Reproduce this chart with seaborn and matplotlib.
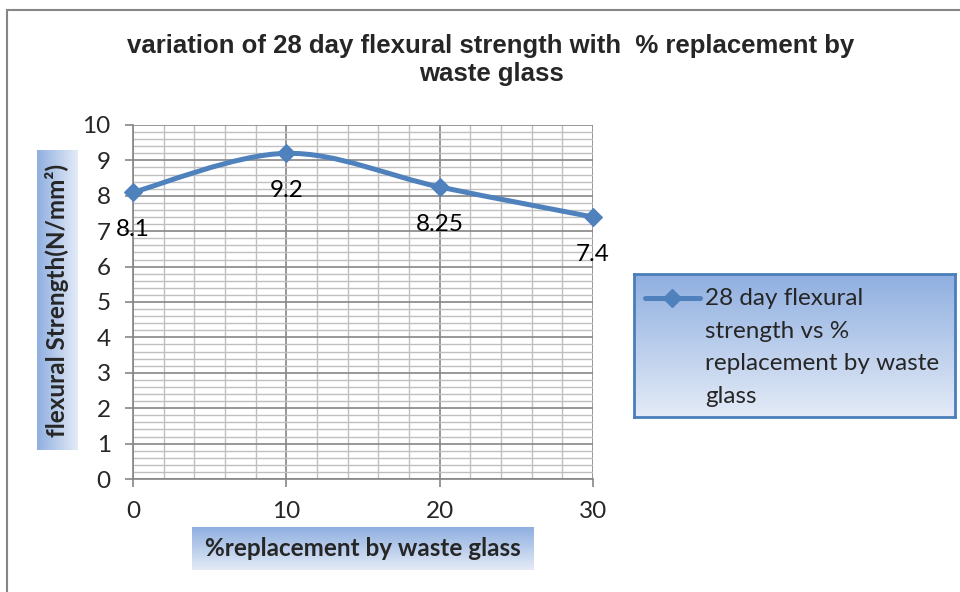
import numpy as np
import pandas as pd
import seaborn as sns
import matplotlib.pyplot as plt
from matplotlib.path import Path
from matplotlib.patches import PathPatch, Rectangle
from matplotlib.lines import Line2D
from matplotlib.colors import LinearSegmentedColormap
from matplotlib.ticker import MultipleLocator

# data
replacement = [0, 10, 20, 30]
strength = [8.1, 9.2, 8.25, 7.4]
point_labels = ['8.1', '9.2', '8.25', '7.4']
series_name = '28 day flexural\nstrength vs %\nreplacement by waste\nglass'
title = 'variation of 28 day flexural strength with  % replacement by\nwaste glass'
x_label = '%replacement by waste glass'
y_label = 'flexural Strength(N/mm²)'

df = pd.DataFrame({'replacement': replacement, 'strength': strength})

sns.set_style('white')
plt.rcParams['font.family'] = ['Lato', 'DejaVu Sans']

blue = '#4f81bd'
grid_major = '#868686'
grid_minor = '#bfbfbf'
box_cmap = LinearSegmentedColormap.from_list('box', ['#8fafe0', '#e4ebf7'])
fs = 17.5

W, H = 960, 592
fig = plt.figure(figsize=(W / 100, H / 100), dpi=100)

def fig_box(x0, y0, x1, y1):
    # pixel box (top-left origin) -> figure fraction rect
    return [x0 / W, 1 - y1 / H, (x1 - x0) / W, (y1 - y0) / H]

# outer chart border (only left/top visible in the crop)
fig.patches.append(Rectangle((7 / W, -0.1), 1.2, (H - 10) / H + 0.1, transform=fig.transFigure,
                             fill=False, edgecolor='#868686', linewidth=1.5))

ax = fig.add_axes(fig_box(133, 125, 593, 479))

# smooth line the way the spreadsheet draws it (bezier through the points)
pts = df[['replacement', 'strength']].to_numpy(float)
ext = np.vstack([pts[0], pts, pts[-1]])
verts = [pts[0]]
codes = [Path.MOVETO]
for i in range(len(pts) - 1):
    p0, p1, p2, p3 = ext[i], ext[i + 1], ext[i + 2], ext[i + 3]
    verts += [p1 + (p2 - p0) / 6, p2 - (p3 - p1) / 6, p2]
    codes += [Path.CURVE4] * 3
ax.add_patch(PathPatch(Path(verts, codes), facecolor='none', edgecolor=blue, linewidth=3.6,
                       zorder=3, capstyle='round', joinstyle='round'))

sns.scatterplot(data=df, x='replacement', y='strength', marker='D', s=80, color=blue,
                edgecolor=blue, linewidth=1, zorder=4, ax=ax, legend=False, clip_on=False)

for xv, yv, lab in zip(replacement, strength, point_labels):
    ax.annotate(lab, (xv, yv), xytext=(0, -27), textcoords='offset points',
                ha='center', va='center', fontsize=fs, color='black')

ax.set_xlim(0, 30)
ax.set_ylim(0, 10)
ax.xaxis.set_major_locator(MultipleLocator(10))
ax.xaxis.set_minor_locator(MultipleLocator(2))
ax.yaxis.set_major_locator(MultipleLocator(1))
ax.yaxis.set_minor_locator(MultipleLocator(0.2))
ax.grid(which='major', color=grid_major, linewidth=1.2)
ax.grid(which='minor', color=grid_minor, linewidth=1.0)
ax.set_axisbelow(True)
ax.tick_params(which='major', direction='out', length=6, width=1.2, color=grid_major,
               labelsize=fs, pad=10, bottom=True, left=True)
ax.tick_params(which='minor', length=0)
for s in ['top', 'right']:
    ax.spines[s].set_visible(False)
for s in ['left', 'bottom']:
    ax.spines[s].set_color(grid_major)
    ax.spines[s].set_linewidth(1.2)
ax.set_xlabel('')
ax.set_ylabel('')

fig.text(491 / W, 1 - 60 / H, title, ha='center', va='center', fontsize=18.5, fontweight='bold',
         family='Liberation Sans', linespacing=1.2)

# axis titles on gradient boxes
grad = np.linspace(0, 1, 256)
yl = fig.add_axes(fig_box(37, 150, 78, 450))
yl.imshow(grad[np.newaxis, :], cmap=box_cmap, aspect='auto', extent=(0, 1, 0, 1))
yl.set_axis_off()
yl.text(0.5, 0.5, y_label, rotation=90, ha='center', va='center', fontsize=fs,
        fontweight='bold', transform=yl.transAxes)

xl = fig.add_axes(fig_box(192, 527, 534, 570))
xl.imshow(grad[:, np.newaxis], cmap=box_cmap, aspect='auto', extent=(0, 1, 0, 1), origin='upper')
xl.set_axis_off()
xl.text(0.5, 0.5, x_label, ha='center', va='center', fontsize=fs,
        fontweight='bold', transform=xl.transAxes)

# legend box with gradient fill
lx0, ly0, lx1, ly1 = 634, 274, 955, 417
lg = fig.add_axes(fig_box(lx0, ly0, lx1, ly1))
lg.imshow(grad[:, np.newaxis], cmap=box_cmap, aspect='auto', extent=(0, 1, 0, 1), origin='upper')
lg.set_xlim(0, 1)
lg.set_ylim(0, 1)
lg.set_xticks([])
lg.set_yticks([])
for s in lg.spines.values():
    s.set_color('#4a7ebb')
    s.set_linewidth(2)
lw_, lh_ = lx1 - lx0, ly1 - ly0
hx = [(645 - lx0) / lw_, (672 - lx0) / lw_, (700 - lx0) / lw_]
hy = (ly1 - 298) / lh_
lg.add_line(Line2D(hx, [hy] * 3, color=blue, linewidth=3.6, marker='D', markersize=9,
                   markevery=[1], markerfacecolor=blue, markeredgecolor=blue))
lg.text((705 - lx0) / lw_, (ly1 - 288) / lh_, series_name, ha='left', va='top',
        fontsize=fs, linespacing=1.68, transform=lg.transAxes)

fig.savefig('out.png', dpi=100)
